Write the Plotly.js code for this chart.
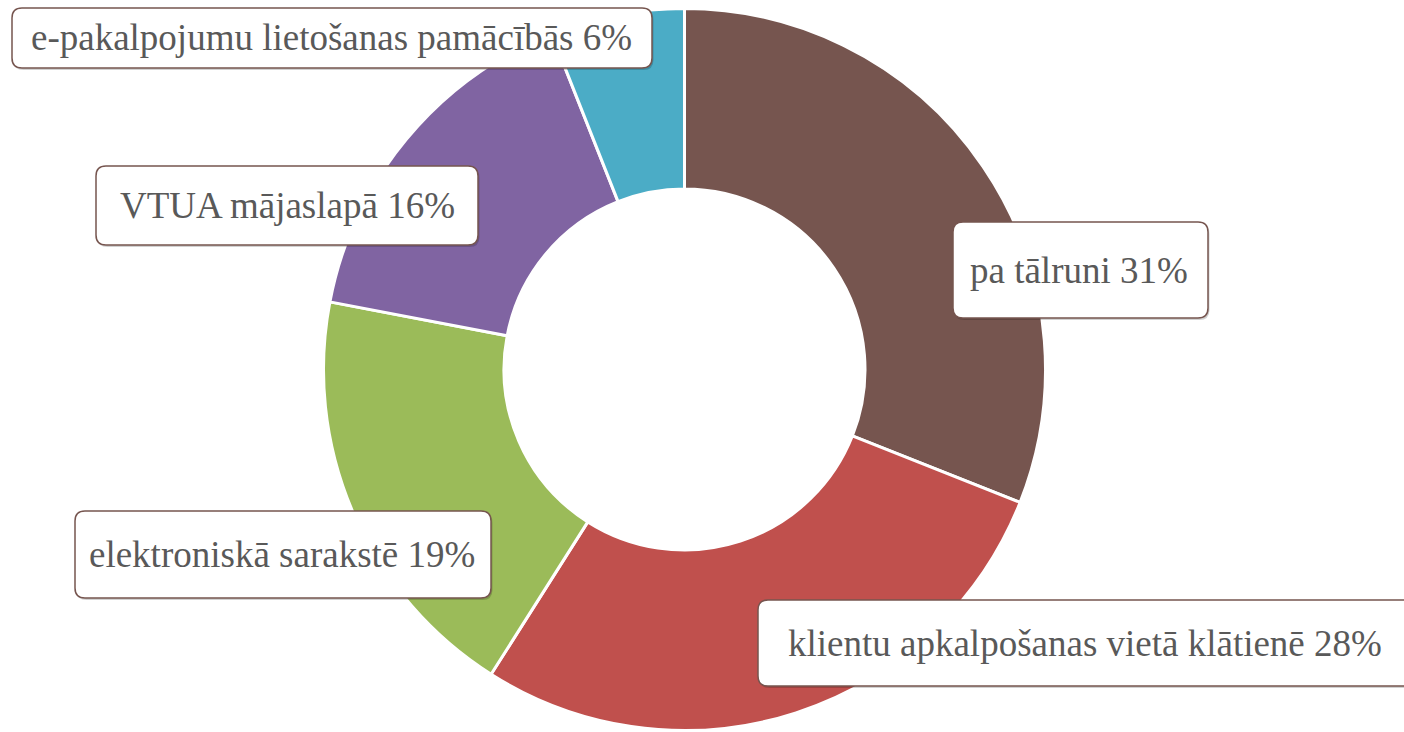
<!DOCTYPE html>
<html>
<head>
<meta charset="utf-8">
<script src="https://cdn.plot.ly/plotly-3.0.1.min.js"></script>
<style>html,body{margin:0;padding:0;background:#fff;}#chart{width:1404px;height:732px;}</style>
</head>
<body>
<div id="chart"></div>
<script>
// Data
const categories = ["pa tālruni", "klientu apkalpošanas vietā klātienē", "elektroniskā sarakstē", "VTUA mājaslapā", "e-pakalpojumu lietošanas pamācībās"];
const values = [31, 28, 19, 16, 6];
const colors = ["#76554F", "#C0504D", "#9BBB59", "#8064A2", "#4BACC6"];

// Layout helpers (label box placement in pixels)
const W = 1404, H = 732;
const boxes = [
  {x0: 953, x1: 1208, y0: 222, y1: 318, cx: 1079},
  {x0: 758, x1: 1412, y0: 600, y1: 686, cx: 1085},
  {x0: 75,  x1: 491,  y0: 511, y1: 598, cx: 282},
  {x0: 96,  x1: 478,  y0: 166, y1: 245, cx: 287},
  {x0: 12,  x1: 652,  y0: 8,   y1: 68,  cx: 331}
];
const px = v => v / W;
const py = v => 1 - v / H;
function roundRect(b, r, dx, dy) {
  const x0 = b.x0 + dx, x1 = b.x1 + dx, y0 = b.y0 + dy, y1 = b.y1 + dy;
  const P = (x, y) => px(x) + ',' + py(y);
  return 'M ' + P(x0 + r, y0) + ' L ' + P(x1 - r, y0) + ' Q ' + P(x1, y0) + ' ' + P(x1, y0 + r) +
    ' L ' + P(x1, y1 - r) + ' Q ' + P(x1, y1) + ' ' + P(x1 - r, y1) +
    ' L ' + P(x0 + r, y1) + ' Q ' + P(x0, y1) + ' ' + P(x0, y1 - r) +
    ' L ' + P(x0, y0 + r) + ' Q ' + P(x0, y0) + ' ' + P(x0 + r, y0) + ' Z';
}

const FONT = 'Liberation Serif';
const shapes = [];
const annotations = [];
boxes.forEach((b, i) => {
  shapes.push({type: 'path', xref: 'paper', yref: 'paper', path: roundRect(b, 10, 1.5, 2),
    fillcolor: 'rgba(0,0,0,0.18)', line: {width: 0}, layer: 'above'});
  shapes.push({type: 'path', xref: 'paper', yref: 'paper', path: roundRect(b, 10, 0, 0),
    fillcolor: '#ffffff', line: {color: '#76554F', width: 1.5}, layer: 'above'});
  annotations.push({
    xref: 'paper', yref: 'paper',
    x: px(b.cx), y: py((b.y0 + b.y1) / 2),
    xanchor: 'center', yanchor: 'middle', showarrow: false,
    text: categories[i] + ' ' + values[i] + '%',
    font: {family: FONT, size: 37, color: '#595959'}
  });
});

const trace = {
  type: 'pie',
  labels: categories,
  values: values,
  sort: false,
  direction: 'clockwise',
  rotation: 0,
  hole: 0.5,
  textinfo: 'none',
  hoverinfo: 'none',
  marker: {colors: colors, line: {color: '#ffffff', width: 3}},
  domain: {x: [(684.5 - 361) / W, (684.5 + 361) / W], y: [1 - (369.5 + 361) / H, 1 - (369.5 - 361) / H]},
  showlegend: false
};

const layout = {
  width: W, height: H,
  margin: {l: 0, r: 0, t: 0, b: 0},
  paper_bgcolor: '#ffffff',
  plot_bgcolor: '#ffffff',
  font: {family: FONT},
  showlegend: false,
  shapes: shapes,
  annotations: annotations
};

Plotly.newPlot('chart', [trace], layout, {displayModeBar: false, staticPlot: true});
</script>
</body>
</html>
